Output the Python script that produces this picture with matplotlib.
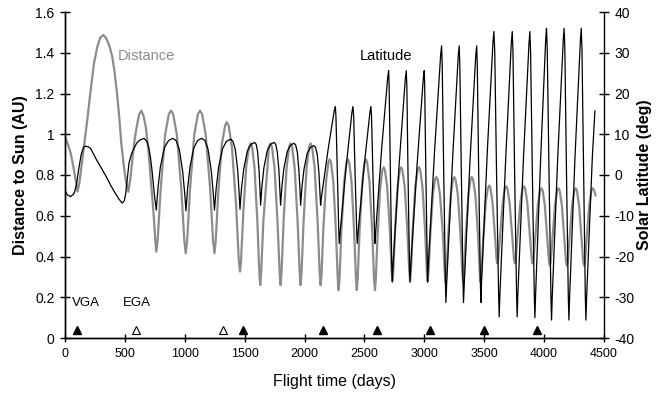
import matplotlib
matplotlib.use("Agg")
import matplotlib.pyplot as plt

plt.rcParams['font.family'] = ['Liberation Sans', 'DejaVu Sans']

# -----------------------------
# Datos: distancia al Sol (AU)
# -----------------------------
dist_early_day = [0, 25, 48, 70, 89, 104, 120, 144, 165, 186, 215, 242, 270, 295, 320,
                  345, 370, 395, 415, 437, 455, 470, 490, 507, 529, 545, 562, 580, 599,
                  618, 637, 656, 674, 695, 715, 730, 743, 753]
dist_early_au = [0.988, 0.95, 0.906, 0.84, 0.775, 0.718, 0.76, 0.874, 0.97, 1.07, 1.22,
                 1.348, 1.43, 1.475, 1.487, 1.47, 1.435, 1.38, 1.30, 1.185, 1.07, 0.955,
                 0.85, 0.775, 0.718, 0.78, 0.874, 0.97, 1.037, 1.095, 1.116, 1.09, 1.037,
                 0.93, 0.79, 0.68, 0.58, 0.49]

dist_orbit_day = [
    762, 774, 799, 836, 867, 885, 903, 934, 971, 996,
    1008, 1020, 1044, 1079, 1109, 1127, 1145, 1175, 1212, 1236,
    1248, 1258, 1279, 1309, 1337, 1350, 1367, 1394, 1428, 1450,
    1461, 1470, 1488, 1514, 1537, 1550, 1562, 1582, 1606, 1622,
    1630, 1638, 1656, 1690, 1702, 1715, 1728, 1749, 1774, 1792,
    1800, 1808, 1825, 1850, 1871, 1883, 1896, 1917, 1942, 1959,
    1967, 1975, 1992, 2017, 2038, 2050, 2063, 2084, 2109, 2126,
    2134, 2142, 2157, 2180, 2199, 2210, 2221, 2240, 2262, 2277,
    2284, 2292, 2307, 2331, 2350, 2362, 2373, 2392, 2414, 2429,
    2436, 2444, 2459, 2482, 2501, 2512, 2523, 2542, 2565, 2580,
    2588, 2595, 2610, 2631, 2649, 2660, 2671, 2690, 2712, 2727,
    2734, 2741, 2756, 2777, 2795, 2806, 2817, 2836, 2858, 2874,
    2881, 2888, 2903, 2925, 2944, 2955, 2966, 2984, 3006, 3021,
    3028, 3035, 3050, 3071, 3089, 3100, 3112, 3131, 3155, 3170,
    3178, 3185, 3200, 3221, 3239, 3250, 3261, 3280, 3302, 3317,
    3325, 3332, 3346, 3368, 3385, 3396, 3407, 3426, 3448, 3463,
    3470, 3477, 3492, 3513, 3531, 3542, 3552, 3569, 3590, 3603,
    3610, 3617, 3632, 3654, 3672, 3683, 3694, 3712, 3734, 3749,
    3756, 3763, 3778, 3801, 3820, 3831, 3842, 3860, 3882, 3897,
    3904, 3911, 3926, 3948, 3967, 3978, 3988, 4006, 4027, 4041,
    4048, 4055, 4070, 4091, 4109, 4120, 4130, 4148, 4169, 4183,
    4190, 4197, 4212, 4234, 4253, 4264, 4274, 4292, 4313, 4327,
    4334, 4341, 4355, 4377, 4395, 4405, 4418, 4430]
dist_orbit_au = [
    0.424, 0.483, 0.733, 0.998, 1.099, 1.116, 1.098, 0.997, 0.731, 0.479,
    0.416, 0.479, 0.731, 0.997, 1.098, 1.116, 1.098, 0.997, 0.731, 0.479,
    0.416, 0.474, 0.705, 0.950, 1.043, 1.059, 1.041, 0.934, 0.656, 0.392,
    0.326, 0.383, 0.609, 0.848, 0.939, 0.955, 0.938, 0.837, 0.573, 0.323,
    0.26, 0.323, 0.573, 0.837, 0.938, 0.955, 0.938, 0.837, 0.573, 0.323,
    0.26, 0.323, 0.573, 0.837, 0.938, 0.955, 0.938, 0.837, 0.573, 0.323,
    0.26, 0.323, 0.573, 0.837, 0.938, 0.955, 0.938, 0.837, 0.573, 0.323,
    0.26, 0.316, 0.538, 0.772, 0.862, 0.877, 0.861, 0.768, 0.524, 0.293,
    0.235, 0.293, 0.524, 0.768, 0.861, 0.877, 0.861, 0.768, 0.524, 0.293,
    0.235, 0.293, 0.524, 0.768, 0.861, 0.877, 0.861, 0.768, 0.524, 0.293,
    0.235, 0.289, 0.506, 0.735, 0.823, 0.838, 0.824, 0.743, 0.531, 0.330,
    0.28, 0.330, 0.531, 0.743, 0.824, 0.838, 0.824, 0.743, 0.531, 0.330,
    0.28, 0.330, 0.531, 0.743, 0.824, 0.838, 0.824, 0.743, 0.531, 0.330,
    0.28, 0.326, 0.510, 0.703, 0.777, 0.79, 0.777, 0.702, 0.507, 0.321,
    0.275, 0.321, 0.507, 0.702, 0.777, 0.79, 0.777, 0.702, 0.507, 0.321,
    0.275, 0.321, 0.507, 0.702, 0.777, 0.79, 0.777, 0.702, 0.507, 0.321,
    0.275, 0.318, 0.488, 0.668, 0.736, 0.748, 0.737, 0.664, 0.500, 0.385,
    0.366, 0.385, 0.499, 0.662, 0.734, 0.745, 0.734, 0.662, 0.499, 0.385,
    0.366, 0.385, 0.499, 0.662, 0.734, 0.745, 0.734, 0.662, 0.499, 0.385,
    0.366, 0.384, 0.495, 0.654, 0.724, 0.735, 0.724, 0.651, 0.488, 0.374,
    0.355, 0.374, 0.488, 0.651, 0.724, 0.735, 0.724, 0.651, 0.488, 0.374,
    0.355, 0.374, 0.488, 0.651, 0.724, 0.735, 0.724, 0.651, 0.488, 0.374,
    0.355, 0.374, 0.488, 0.651, 0.724, 0.735, 0.725, 0.70]

# -----------------------------
# Datos: latitud solar (deg)
# -----------------------------
lat_early_day = [0, 20, 48, 75, 95, 115, 135, 155, 170, 195, 214, 260, 298, 340, 381,
                 420, 450, 478, 495, 507, 520, 534, 555, 576, 600, 626, 659, 685, 701,
                 715, 729, 745]
lat_early_deg = [-3.7, -4.9, -5.3, -4.6, -2.5, 1.5, 5.0, 6.8, 7.1, 6.9, 6.5, 3.9, 2.0,
                 -0.2, -2.5, -4.5, -5.9, -6.9, -6.3, -4.5, -1.0, 2.9, 5.2, 6.5, 7.9, 8.6,
                 9.0, 8.2, 6.5, 4.0, 0.4, -4.5]

lat_orbit_day = [
    762, 776, 796, 830, 865, 899, 927, 954, 982, 999,
    1010, 1023, 1043, 1076, 1108, 1141, 1168, 1194, 1221, 1237,
    1248, 1262, 1282, 1316, 1349, 1383, 1402, 1422, 1442, 1453,
    1461, 1473, 1492, 1522, 1553, 1583, 1596, 1608, 1620, 1628,
    1633, 1644, 1661, 1689, 1717, 1745, 1759, 1772, 1786, 1794,
    1800, 1811, 1828, 1856, 1884, 1912, 1926, 1940, 1953, 1962,
    1967, 1978, 1995, 2022, 2050, 2078, 2092, 2106, 2120, 2128,
    2134, 2141, 2196, 2248, 2257, 2262, 2274, 2286,
    2290, 2297, 2347, 2396, 2404, 2410, 2422, 2436,
    2440, 2447, 2497, 2546, 2554, 2559, 2571, 2584,
    2588, 2595, 2645, 2694, 2702, 2706, 2717, 2728,
    2732, 2739, 2790, 2841, 2849, 2854, 2864, 2876,
    2880, 2887, 2940, 2991, 2999, 3003, 3013, 3024,
    3027, 3034, 3086, 3136, 3144, 3149, 3162, 3176,
    3180, 3187, 3236, 3283, 3291, 3296, 3309, 3323,
    3327, 3334, 3382, 3429, 3437, 3442, 3454, 3468,
    3472, 3478, 3526, 3573, 3581, 3588, 3603, 3620,
    3625, 3631, 3680, 3726, 3734, 3740, 3754, 3770,
    3775, 3781, 3828, 3874, 3881, 3887, 3902, 3918,
    3923, 3929, 3972, 4013, 4020, 4026, 4041, 4057,
    4062, 4068, 4114, 4160, 4167, 4173, 4187, 4202,
    4207, 4213, 4258, 4303, 4310, 4316, 4330, 4344,
    4349, 4355, 4402, 4424]
lat_orbit_deg = [
    -8.6, -3.32, 1.96, 6.71, 8.47, 9.0, 8.47, 6.33, 0.99, -4.35,
    -8.8, -3.46, 1.88, 6.69, 8.47, 9.0, 8.47, 6.36, 1.08, -4.2,
    -8.6, -3.38, 1.84, 6.54, 8.28, 8.8, 8.28, 6.22, 1.06, -4.1,
    -8.4, -3.48, 1.44, 5.87, 7.51, 8.0, 7.54, 5.69, 1.07, -3.55,
    -7.4, -2.78, 1.84, 6.0, 7.54, 8.0, 7.54, 5.69, 1.07, -3.55,
    -7.4, -2.84, 1.72, 5.82, 7.34, 7.8, 7.34, 5.52, 0.96, -3.6,
    -7.4, -3.02, 1.36, 5.3, 6.76, 7.2, 6.76, 5.01, 0.63, -3.75,
    -7.4, -5.46, 6.15, 15.83, 16.8, 14.45, 0.0, -14.11,
    -16.8, -14.11, 2.02, 15.46, 16.8, 14.45, 0.0, -14.11,
    -16.8, -14.11, 2.02, 15.46, 16.8, 14.45, 0.0, -14.11,
    -16.8, -13.41, 6.94, 23.9, 25.6, 21.97, -0.35, -22.15,
    -26.3, -22.15, 2.76, 23.52, 25.6, 21.97, -0.35, -22.15,
    -26.3, -22.15, 2.76, 23.52, 25.6, 21.97, -0.35, -22.15,
    -26.3, -21.66, 6.18, 29.38, 31.7, 27.29, 0.2, -26.26,
    -31.3, -26.26, 3.98, 29.18, 31.7, 27.29, 0.2, -26.26,
    -31.3, -26.26, 3.98, 29.18, 31.7, 27.29, 0.2, -26.26,
    -31.3, -25.98, 5.94, 32.54, 35.2, 30.3, 0.2, -29.2,
    -34.8, -29.2, 4.4, 32.4, 35.2, 30.3, 0.2, -29.2,
    -34.8, -29.2, 4.4, 32.4, 35.2, 30.3, 0.1, -29.4,
    -35.0, -29.3, 4.76, 33.16, 36.0, 31.0, 0.2, -29.87,
    -35.6, -29.87, 4.5, 33.14, 36.0, 31.0, 0.2, -29.87,
    -35.6, -29.87, 4.5, 33.14, 36.0, 31.0, 0.2, -29.87,
    -35.6, -29.9, 4.0, 15.7]

# -----------------------------
# Sobrevuelos (VGA rellenos, EGA vacíos)
# -----------------------------
vga_days = [100, 1488, 2154, 2607, 3050, 3494, 3944]
ega_days = [589, 1317]
flyby_au = 0.04

x_ticks = [0, 500, 1000, 1500, 2000, 2500, 3000, 3500, 4000, 4500]
y_ticks = [0, 0.2, 0.4, 0.6, 0.8, 1, 1.2, 1.4, 1.6]
y_tick_labels = ["0", "0.2", "0.4", "0.6", "0.8", "1", "1.2", "1.4", "1.6"]
lat_ticks = [-40, -30, -20, -10, 0, 10, 20, 30, 40]
lat_tick_labels = ["-40", "-30", "-20", "-10", "0", "10", "20", "30", "40"]

GRAY = "#8c8c8c"

# -----------------------------
# Figura
# -----------------------------
fig = plt.figure(figsize=(6.56, 3.95), dpi=100)
ax = fig.add_axes([65 / 656, 57 / 395, 539 / 656, 326 / 395])
ax2 = ax.twinx()

ax.plot(dist_early_day + dist_orbit_day, dist_early_au + dist_orbit_au,
        color=GRAY, lw=1.6, solid_joinstyle="round")
ax2.plot(lat_early_day + lat_orbit_day, lat_early_deg + lat_orbit_deg,
         color="black", lw=0.9, solid_joinstyle="round")

ax.plot(vga_days, [flyby_au] * len(vga_days), "^", ms=6, mfc="black",
        mec="black", clip_on=False)
ax.plot(ega_days, [flyby_au] * len(ega_days), "^", ms=6, mfc="white",
        mec="black", mew=0.8, clip_on=False)

ax.text(175, 0.172, "VGA", fontsize=9.5, ha="center", va="center")
ax.text(601, 0.172, "EGA", fontsize=9.5, ha="center", va="center")
ax.text(442, 1.384, "Distance", fontsize=10.5, color=GRAY, ha="left", va="center")
ax.text(2462, 1.385, "Latitude", fontsize=10.5, color="black", ha="left", va="center")

ax.set_xlim(0, 4500)
ax.set_ylim(0, 1.6)
ax2.set_ylim(-40, 40)

ax.set_xticks(x_ticks)
ax.set_yticks(y_ticks)
ax.set_yticklabels(y_tick_labels)
ax2.set_yticks(lat_ticks)
ax2.set_yticklabels(lat_tick_labels)

ax.tick_params(axis="x", direction="inout", length=6, width=1, labelsize=9, pad=4)
ax.tick_params(axis="y", direction="inout", length=7, width=1, labelsize=10, pad=4)
ax2.tick_params(axis="y", direction="inout", length=7, width=1, labelsize=10, pad=4)

for a in (ax, ax2):
    a.spines["top"].set_visible(False)
    for s in ("left", "right", "bottom"):
        a.spines[s].set_linewidth(1.0)
ax.spines["right"].set_visible(False)

ax.set_xlabel("Flight time (days)", fontsize=11.5)
ax.set_ylabel("Distance to Sun (AU)", fontsize=11.5, fontweight="bold")
ax2.set_ylabel("Solar Latitude (deg)", fontsize=11.5, fontweight="bold")
ax.xaxis.set_label_coords(0.5, -0.11)
ax.yaxis.set_label_coords(-0.068, 0.5)
ax2.yaxis.set_label_coords(1.062, 0.5)

fig.savefig("out.png", dpi=100)
